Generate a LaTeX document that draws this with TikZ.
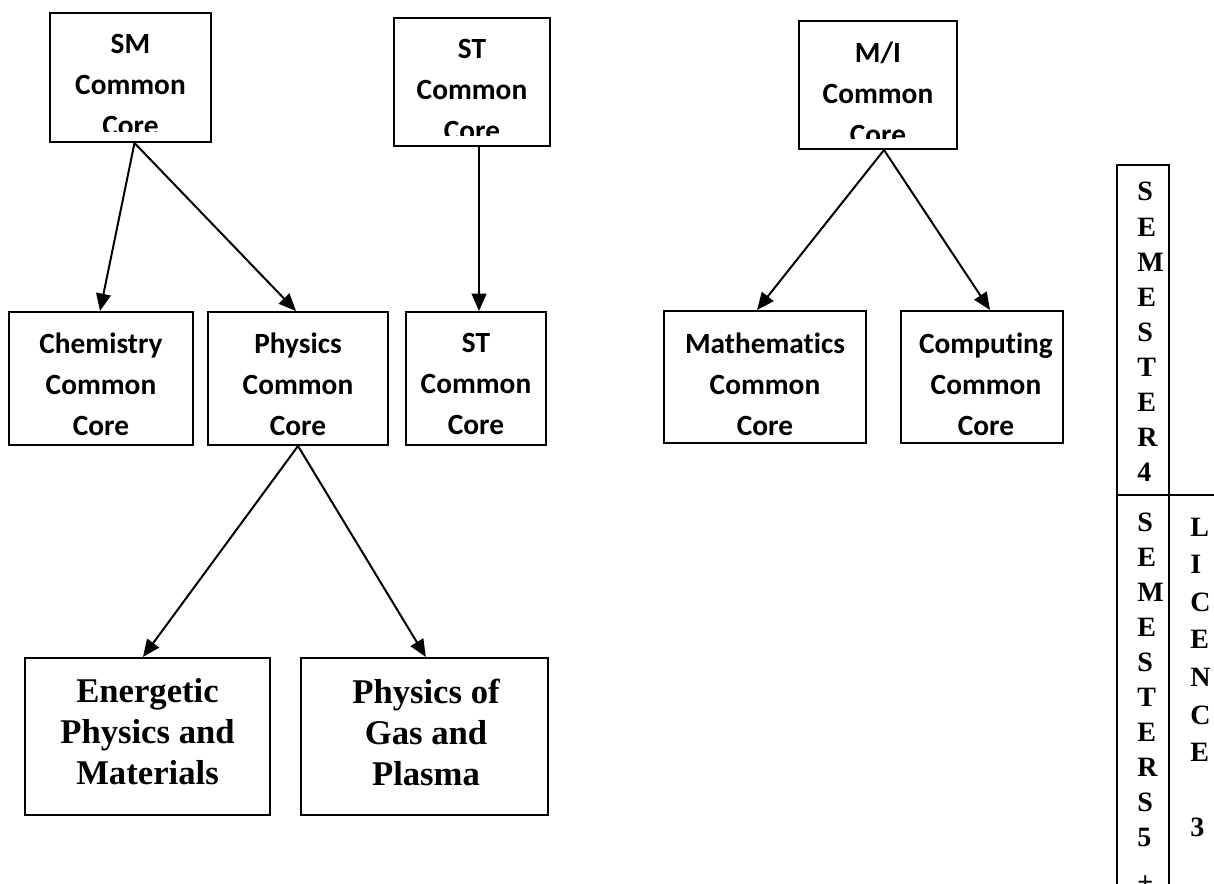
\documentclass[tikz,border=0pt]{standalone}
\usepackage{fontspec}
\setmainfont{Liberation Serif}
\newfontfamily\calfont[Ligatures={NoCommon}]{Carlito}
\usetikzlibrary{arrows.meta,fit}
\tikzset{
  box/.style={draw, line width=1.5pt, inner sep=0pt},
  caltext/.style={font=\calfont\bfseries\fontsize{22}{30.75}\selectfont, align=center, inner sep=0pt},
  timestext/.style={font=\bfseries\fontsize{26}{30.75}\selectfont, align=center, inner sep=0pt},
  arr/.style={-{Triangle[length=13pt,width=11pt]}, line width=1.5pt},
  letter/.style={font=\bfseries\fontsize{21}{24}\selectfont, anchor=base west, inner sep=0pt},
  rulel/.style={line width=1.3pt}
}
\begin{document}
\begin{tikzpicture}[x=0.75pt,y=-0.75pt]
\useasboundingbox (0,0) rectangle (1214,884);
\fill[white] (0,0) rectangle (1214,884);

% top boxes (text clipped at bottom)
\node[box, fit={(50,13) (211,142)}] (sm) {};
\begin{scope}\clip (50,13) rectangle (211,132);
\node[caltext] (smt) at (130.5,85) {SM\\Common\\Core};
\end{scope}
\node[box, fit={(394,18) (550,146)}] (st1) {};
\begin{scope}\clip (394,18) rectangle (550,136);
\node[caltext] (st1t) at (472,90) {ST\\Common\\Core};
\end{scope}
\node[box, fit={(799,21) (957,149)}] (mi) {};
\begin{scope}\clip (799,21) rectangle (957,139);
\node[caltext] (mit) at (878,93) {M/I\\Common\\Core};
\end{scope}

% second row
\node[box, fit={(9,312) (193,445)}] (chem) {};
\node[caltext] (chemt) at (101,384) {Chemistry\\Common\\Core};
\node[box, fit={(208,312) (388,445)}] (phys) {};
\node[caltext] (physt) at (298,384) {Physics\\Common\\Core};
\node[box, fit={(406,312) (546,445)}] (st2) {};
\node[caltext] (st2t) at (476,384) {ST\\Common\\Core};
\node[box, fit={(664,311) (866,443)}] (math) {};
\node[caltext] (matht) at (765,384) {Mathematics\\Common\\Core};
\node[box, fit={(901,311) (1063,443)}] (comp) {};
\node[caltext] (compt) at (986,384) {Computing\\Common\\Core};

% third row
\node[box, fit={(25,658) (270,815)}] (ener) {};
\node[timestext] (enert) at (147.5,732) {Energetic\\Physics and\\Materials};
\node[box, fit={(301,658) (548,815)}] (gas) {};
\node[timestext] (gast) at (426,732) {Physics of\\Gas and\\Plasma};

% arrows
\draw[arr] ([xshift=3pt]sm.south) -- ([xshift=-0.75pt]chem.north);
\draw[arr] ([xshift=3pt]sm.south) -- ([xshift=-1.5pt]phys.north);
\draw[arr] ([xshift=5.25pt]st1.south) -- ([xshift=2.25pt]st2.north);
\draw[arr] ([xshift=4.5pt]mi.south) -- ([xshift=-6pt]math.north);
\draw[arr] ([xshift=4.5pt]mi.south) -- ([xshift=6pt]comp.north);
\draw[arr] (phys.south) -- ([xshift=-3.4pt]ener.north);
\draw[arr] (phys.south) -- ([xshift=1pt]gas.north);

% right table
\draw[rulel] (1117,884) -- (1117,165) -- (1169,165) -- (1169,884);
\draw[rulel] (1117,495) -- (1214,495);
\draw[line width=2pt] (1169,495) -- (1169,884);
\foreach \c [count=\i from 0] in {S,E,M,E,S,T,E,R,4}
  \node[letter] (a\i) at (1137,201+35.1*\i) {\c};
\foreach \c [count=\i from 0] in {S,E,M,E,S,T,E,R,S,5}
  \node[letter] (b\i) at (1137,531+35*\i) {\c};
\node[letter] (b10) at (1137,891) {+};
\foreach \c [count=\i from 0] in {L,I,C,E,N,C,E}
  \node[letter] (c\i) at (1190,536+37.6*\i) {\c};
\node[letter] (c8) at (1190,536+37.6*8) {3};
\end{tikzpicture}
\end{document}
